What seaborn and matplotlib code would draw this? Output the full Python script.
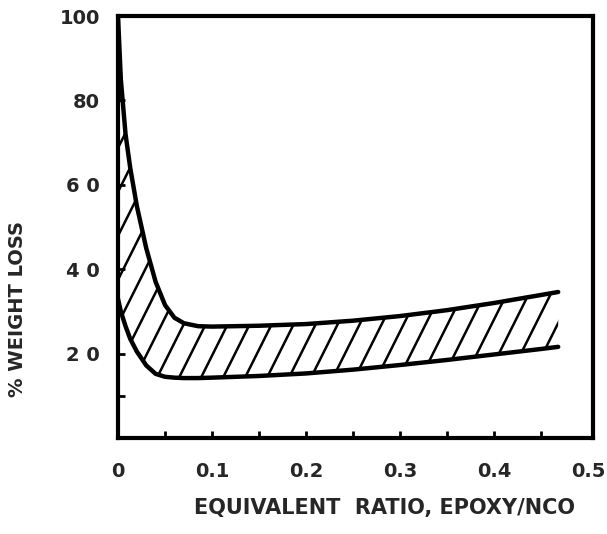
import numpy as np
import matplotlib
matplotlib.use("Agg")
import matplotlib.pyplot as plt
from matplotlib.lines import Line2D
import seaborn as sns

# values
ratio = [0, 0.003, 0.008, 0.013, 0.02, 0.03, 0.04, 0.05, 0.06, 0.07, 0.085,
         0.1, 0.15, 0.2, 0.25, 0.3, 0.35, 0.4, 0.45, 0.468]
upper = [100, 85, 72, 64, 55, 45, 37, 31.5, 28.5, 27.2, 26.5,
         26.4, 26.6, 27.0, 27.8, 28.9, 30.3, 32.0, 33.9, 34.6]
lower = [33, 30, 26.5, 23.5, 20.5, 17.2, 15.2, 14.5, 14.3, 14.2, 14.2,
         14.3, 14.7, 15.3, 16.2, 17.3, 18.5, 19.8, 21.1, 21.6]

x_ticks = [0, 0.1, 0.2, 0.3, 0.4, 0.5]
x_labels = ["0", "0.1", "0.2", "0.3", "0.4", "0.5"]
y_ticks = [20, 40, 60, 80, 100]
y_labels = ["2 0", "4 0", "6 0", "80", "100"]

sns.set_style("white")
plt.rcParams['font.family'] = ['DejaVu Sans']
plt.rcParams['font.weight'] = 'bold'

fig = plt.figure(figsize=(6.07, 5.34), dpi=100)
ax = fig.add_axes([118 / 607, 1 - 438 / 534, 475 / 607, 422 / 534])

# hatched band between the two curves
band = ax.fill_between(ratio, lower, upper, facecolor="none", edgecolor="none")
path = band.get_paths()[0]
slope = 2.25
for x0 in np.arange(-1.0, 1.5, 0.0463):
    ln = Line2D([x0, x0 + 1 / slope], [0, 1], transform=ax.transAxes,
                color="black", lw=1.8)
    ln.set_clip_path(path, ax.transData)
    ax.add_line(ln)

sns.lineplot(x=ratio, y=upper, color="black", lw=3.2, ax=ax)
sns.lineplot(x=ratio, y=lower, color="black", lw=3.2, ax=ax)

ax.set_xlim(0, 0.505)
ax.set_ylim(0, 100)
for s in ax.spines.values():
    s.set_linewidth(3)
    s.set_color("black")

ax.xaxis.remove_overlapping_locs = False
ax.set_xticks(x_ticks, x_labels)
ax.set_xticks([0.05, 0.1, 0.15, 0.2, 0.25, 0.3, 0.35, 0.4, 0.45], minor=True)
ax.set_yticks(y_ticks, y_labels)
ax.set_yticks([10], minor=True)
ax.tick_params(axis="x", which="major", length=0, pad=17, labelsize=14)
ax.tick_params(axis="y", which="major", direction="in", length=5, width=2,
               color="black", pad=13, labelsize=14, left=True)
ax.tick_params(which="minor", direction="in", length=5, width=2, color="black")
ax.tick_params(axis="x", which="minor", bottom=True)
ax.tick_params(axis="y", which="minor", left=True)

fig.text(18 / 607, 1 - 309 / 534, "% WEIGHT LOSS", rotation=90,
         ha="center", va="center", fontsize=14, fontweight="bold")
fig.text(385 / 607, 1 - 508 / 534, "EQUIVALENT  RATIO, EPOXY/NCO",
         ha="center", va="center", fontsize=15, fontweight="bold")

fig.savefig("out.png", dpi=100, facecolor="white")
